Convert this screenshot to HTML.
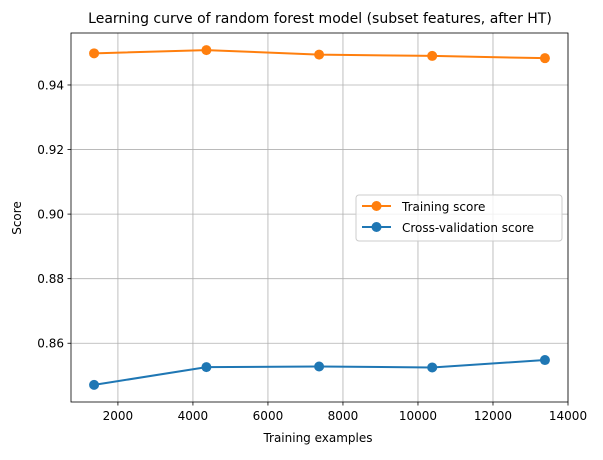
<!DOCTYPE html>
<html><head><meta charset="utf-8"><style>
body{margin:0;background:#fff}
svg text{font-family:"DejaVu Sans","Liberation Sans",sans-serif;fill:#000}
</style></head><body>
<svg id="chart" width="603" height="455" xmlns="http://www.w3.org/2000/svg">
<rect width="603" height="455" fill="#fff"/>
<g id="grid"></g><g id="axes"></g><g id="series"></g>
<text x="320" y="23" text-anchor="middle" font-size="14">Learning curve of random forest model (subset features, after HT)</text>
<text x="318" y="442" text-anchor="middle" font-size="12">Training examples</text>
<text transform="translate(21,218) rotate(-90)" text-anchor="middle" font-size="12">Score</text>
<g>
<rect x="356" y="195" width="206" height="46" rx="3" fill="#fff" fill-opacity="0.8" stroke="#ccc"/>
<line x1="362" y1="206" x2="391" y2="206" stroke="#ff7f0e" stroke-width="2"/><circle cx="376.5" cy="206" r="5" fill="#ff7f0e"/>
<text x="402" y="211" font-size="12">Training score</text>
<line x1="362" y1="227" x2="391" y2="227" stroke="#1f77b4" stroke-width="2"/><circle cx="376.5" cy="227" r="5" fill="#1f77b4"/>
<text x="402" y="232" font-size="12">Cross-validation score</text>
</g>
</svg>
<script>
const trainSizes=[1364,4359,7364,10379,13385];
const trainScores=[0.9498,0.9508,0.9494,0.9490,0.9483];
const cvScores=[0.8471,0.8526,0.8528,0.8525,0.8548];
const xTicks=[2000,4000,6000,8000,10000,12000,14000];
const yTicks=[0.86,0.88,0.90,0.92,0.94];
const L=71,R=568,T=33,B=402;
const X0=749,X1=14000,Y0=0.8418,Y1=0.9561;
const sx=v=>L+(v-X0)/(X1-X0)*(R-L);
const sy=v=>B-(v-Y0)/(Y1-Y0)*(B-T);
const NS="http://www.w3.org/2000/svg";
function mk(tag,attrs,parent){const e=document.createElementNS(NS,tag);for(const k in attrs)e.setAttribute(k,attrs[k]);parent.appendChild(e);return e;}
const grid=document.getElementById('grid'),axes=document.getElementById('axes'),ser=document.getElementById('series');
xTicks.forEach(t=>{const x=sx(t);
const g=mk('line',{x1:x,x2:x,y1:T,y2:B,stroke:'#b0b0b0','stroke-width':0.8},grid);


mk('line',{x1:x,x2:x,y1:B,y2:B+3.5,stroke:'#000','stroke-width':0.8},axes);
const tx=mk('text',{x:x,y:B+18,'text-anchor':'middle','font-size':12},axes);tx.textContent=t;

});
yTicks.forEach(t=>{const y=sy(t);
const g=mk('line',{x1:L,x2:R,y1:y,y2:y,stroke:'#b0b0b0','stroke-width':0.8},grid);


mk('line',{x1:L-3.5,x2:L,y1:y,y2:y,stroke:'#000','stroke-width':0.8},axes);
const tx=mk('text',{x:L-7,y:y+4.5,'text-anchor':'end','font-size':12},axes);tx.textContent=t.toFixed(2);

});
const fr=mk('rect',{x:L,y:T,width:R-L,height:B-T,fill:'none',stroke:'#000','stroke-width':0.8},axes);


[[trainScores,'#ff7f0e','training'],[cvScores,'#1f77b4','cv']].forEach(([vals,c,n])=>{
const p=mk('polyline',{points:vals.map((v,i)=>sx(trainSizes[i])+','+sy(v)).join(' '),fill:'none',stroke:c,'stroke-width':2},ser);


vals.forEach((v,i)=>{const m=mk('circle',{cx:sx(trainSizes[i]),cy:sy(v),r:5,fill:c},ser);

});});
</script>
</body></html>
